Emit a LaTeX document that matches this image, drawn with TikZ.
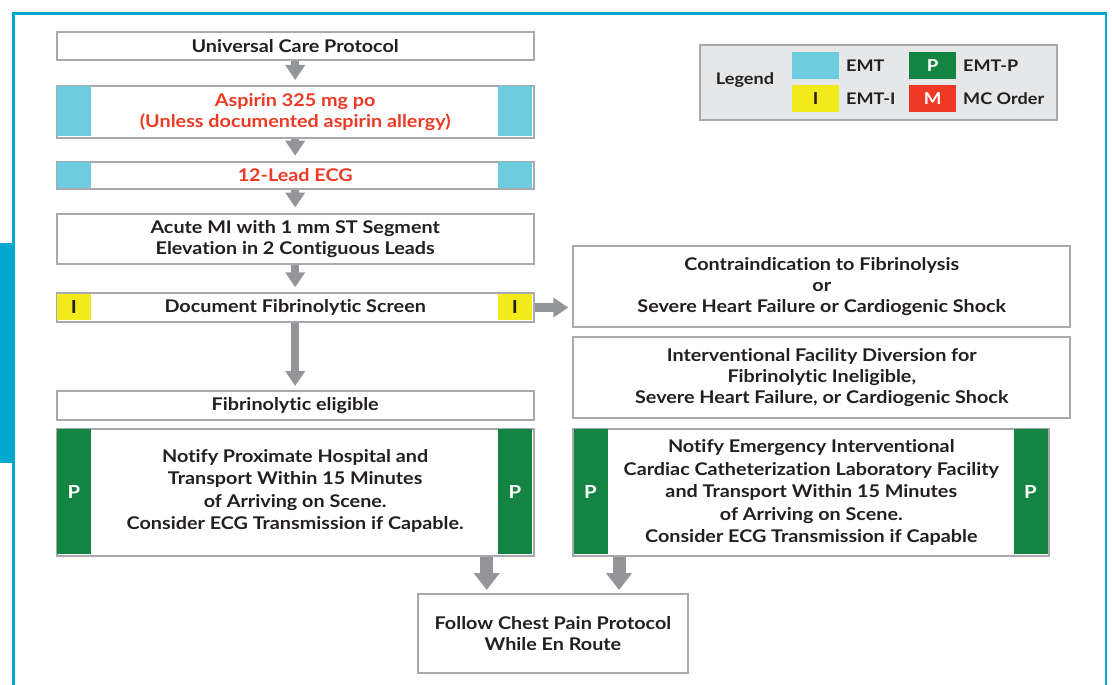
\documentclass[tikz,border=0pt]{standalone}
\usepackage{fontspec}
\setmainfont{Lato}[FakeStretch=1.13, Ligatures=NoCommon]
\usetikzlibrary{arrows.meta}
\definecolor{emt}{HTML}{6DCCDD}
\definecolor{emti}{HTML}{F2EA1A}
\definecolor{emtp}{HTML}{138441}
\definecolor{mc}{HTML}{EE3A24}
\definecolor{bord}{HTML}{A7A9AC}
\definecolor{arr}{HTML}{939598}
\definecolor{framec}{HTML}{00A7CE}
\definecolor{txt}{HTML}{231F20}
\definecolor{leg}{HTML}{E6E7E8}
\begin{document}
\begin{tikzpicture}[x=1pt,y=-1pt,
  box/.style={draw=bord, line width=2pt, fill=white, anchor=north west, inner sep=0pt, align=center, font=\bfseries\fontsize{17.5}{21}\selectfont, text=txt},
  pbox/.style={box, font=\bfseries\fontsize{17.5}{22.5}\selectfont},
  garrow/.style={draw=arr, line width=8.5pt, -{Triangle[width=19pt,length=15pt]}, shorten >=5pt},
  barrow/.style={draw=arr, line width=13pt, -{Triangle[width=25pt,length=17pt]}, shorten >=3pt},
  sq/.style={anchor=north west, inner sep=0pt, minimum width=34pt, font=\bfseries\fontsize{18}{20}\selectfont},
  swatch/.style={anchor=north west, inner sep=0pt, minimum width=47pt, minimum height=27pt, font=\bfseries\fontsize{16.5}{20}\selectfont},
  leglabel/.style={anchor=west, inner sep=0pt, text=txt, font=\bfseries\fontsize{16}{18}\selectfont},
]
\useasboundingbox (0,0) rectangle (1112,685);
% frame and tab
\draw[framec, line width=2.5pt] (13.5,685) -- (13.5,13.5) -- (1106,13.5) -- (1106,685);
\fill[framec] (0,242.5) rectangle (14,462.5);

% left column
\node[box, minimum width=477pt, minimum height=28.6pt] (ucp) at (55.7,30.7) {Universal Care Protocol};
\node[box, minimum width=477pt, minimum height=51.5pt, text=mc] (asp) at (55.7,85) {Aspirin 325 mg po\\(Unless documented aspirin allergy)};
\node[sq, fill=emt, minimum height=49.5pt] (asp1) at (56.7,86) {};
\node[sq, fill=emt, minimum height=49.5pt] (asp2) at (497.7,86) {};
\node[box, minimum width=477pt, minimum height=27.6pt, text=mc] (ecg) at (55.7,160.7) {12-Lead ECG};
\node[sq, fill=emt, minimum height=25.6pt] (ecg1) at (56.7,161.7) {};
\node[sq, fill=emt, minimum height=25.6pt] (ecg2) at (497.7,161.7) {};
\node[box, minimum width=477pt, minimum height=50.5pt] (ami) at (55.7,212.5) {Acute MI with 1 mm ST Segment\\Elevation in 2 Contiguous Leads};
\node[box, minimum width=477pt, minimum height=28.5pt] (doc) at (55.7,292.3) {Document Fibrinolytic Screen};
\node[sq, fill=emti, minimum height=26.5pt, text=txt] (doc1) at (56.7,293.3) {I};
\node[sq, fill=emti, minimum height=26.5pt, text=txt] (doc2) at (497.7,293.3) {I};
\node[box, minimum width=477pt, minimum height=28.5pt] (elig) at (55.7,390) {Fibrinolytic eligible};
\node[pbox, minimum width=477pt, minimum height=127pt] (lp) at (55.7,428) {Notify Proximate Hospital and\\Transport Within 15 Minutes\\of Arriving on Scene.\\Consider ECG Transmission if Capable.\\[-16pt]\mbox{}};
\node[sq, fill=emtp, minimum height=125pt, text=white] (lp1) at (56.7,429) {P};
\node[sq, fill=emtp, minimum height=125pt, text=white] (lp2) at (497.7,429) {P};

% right column
\node[box, minimum width=497pt, minimum height=81pt] (contra) at (572.3,245) {Contraindication to Fibrinolysis\\or\\Severe Heart Failure or Cardiogenic Shock};
\node[box, minimum width=497pt, minimum height=81.5pt] (interv) at (572.3,335.5) {Interventional Facility Diversion for\\Fibrinolytic Ineligible,\\Severe Heart Failure, or Cardiogenic Shock};
\node[pbox, minimum width=476pt, minimum height=127pt] (rp) at (572.3,428) {Notify Emergency Interventional\\Cardiac Catheterization Laboratory Facility\\and Transport Within 15 Minutes\\of Arriving on Scene.\\Consider ECG Transmission if Capable};
\node[sq, fill=emtp, minimum height=125pt, text=white] (rp1) at (573.3,429) {P};
\node[sq, fill=emtp, minimum height=125pt, text=white] (rp2) at (1013.3,429) {P};

\node[box, minimum width=270.5pt, minimum height=78.5pt] (follow) at (416.7,593) {Follow Chest Pain Protocol\\While En Route};

% legend
\node[box, fill=leg, minimum width=357pt, minimum height=75pt] (legend) at (698.5,44) {};
\node[leglabel, anchor=center] (legt) at (745,80) {Legend};
\node[swatch, fill=emt] (s1) at (792,52) {};
\node[swatch, fill=emti, text=txt] (s2) at (792,85) {I};
\node[swatch, fill=emtp, text=white] (s3) at (909,52) {P};
\node[swatch, fill=mc, text=white] (s4) at (909,85) {M};
\node[leglabel] (l1) at (846,65.5) {EMT};
\node[leglabel] (l2) at (846,98.5) {EMT-I};
\node[leglabel] (l3) at (963,65.5) {EMT-P};
\node[leglabel] (l4) at (963,98.5) {MC Order};

% connectors
\draw[garrow] (ucp.south) -- (asp.north);
\draw[garrow] (asp.south) -- (ecg.north);
\draw[garrow] (ecg.south) -- (ami.north);
\draw[garrow] (ami.south) -- (doc.north);
\draw[garrow, shorten >=4pt] (doc.south) -- (elig.north);
\draw[garrow, shorten >=4pt] (doc.east) -- (doc.east -| contra.west);
\coordinate (c1) at (486.7,0);
\coordinate (c2) at (619,0);
\draw[barrow] (lp.south -| c1) -- (follow.north -| c1);
\draw[barrow] (rp.south -| c2) -- (follow.north -| c2);
\end{tikzpicture}
\end{document}
